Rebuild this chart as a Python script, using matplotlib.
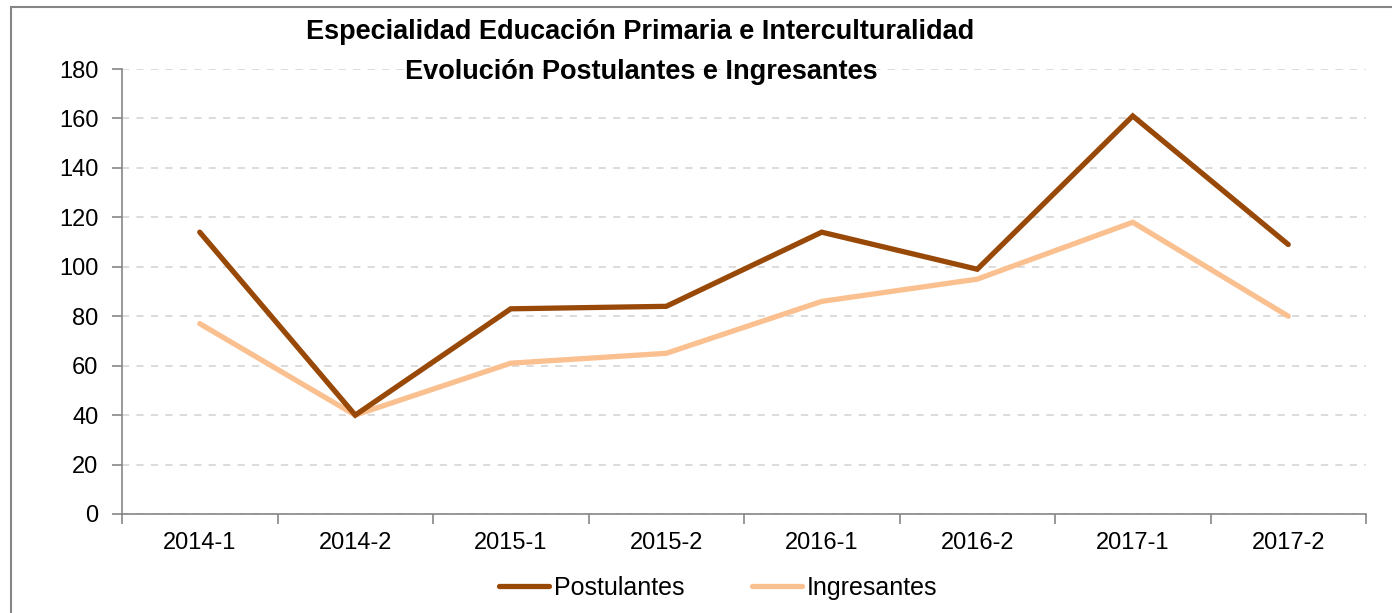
import numpy as np
import matplotlib.pyplot as plt
from matplotlib.patches import Rectangle
from matplotlib.ticker import FixedLocator

# === data ===
periods = ["2014-1", "2014-2", "2015-1", "2015-2", "2016-1", "2016-2", "2017-1", "2017-2"]
postulantes = [114, 40, 83, 84, 114, 99, 161, 109]
ingresantes = [77, 40, 61, 65, 86, 95, 118, 80]

plt.rcParams['font.family'] = ['Liberation Sans', 'DejaVu Sans']

W, H = 1392, 613
fig = plt.figure(figsize=(W / 100, H / 100), dpi=100)
ax = fig.add_axes([122 / W, 1 - 514 / H, (1366 - 122) / W, (514 - 69) / H])

x = np.arange(len(periods))
ax.plot(x, postulantes, color="#984807", lw=3.8, solid_capstyle="round", solid_joinstyle="miter",
        label="Postulantes", zorder=3)
ax.plot(x, ingresantes, color="#FAC090", lw=3.8, solid_capstyle="round", solid_joinstyle="miter",
        label="Ingresantes", zorder=2)

ax.set_xlim(-0.5, len(periods) - 0.5)
ax.set_ylim(0, 180)
ax.set_yticks(np.arange(0, 181, 20))
ax.set_xticks(x)
ax.set_xticklabels(periods)
ax.xaxis.set_minor_locator(FixedLocator(np.arange(-0.5, len(periods), 1)))
ax.tick_params(axis="x", which="major", length=0, pad=13, labelsize=17)
ax.tick_params(axis="x", which="minor", length=7, color="#868686", width=1.2)
ax.tick_params(axis="y", length=7, color="#868686", width=1.2, labelsize=17, pad=10)

ax.grid(axis="y", color="#d9d9d9", ls=(0, (4, 4)), lw=1.3)
ax.set_axisbelow(True)
for s in ["top", "right"]:
    ax.spines[s].set_visible(False)
for s in ["left", "bottom"]:
    ax.spines[s].set_color("#868686")
    ax.spines[s].set_linewidth(1.2)

fig.text(640 / W, 1 - 32 / H, "Especialidad Educación Primaria e Interculturalidad",
         ha="center", va="center", fontsize=19.5, fontweight="bold")
fig.text(641 / W, 1 - 72 / H, "Evolución Postulantes e Ingresantes",
         ha="center", va="center", fontsize=19.5, fontweight="bold")

fig.legend(loc="center", bbox_to_anchor=(718 / W, 1 - 588 / H), ncol=2, frameon=False,
           fontsize=18, handlelength=2.0, handletextpad=0.2, columnspacing=2.7)

# outer chart frame (cropped at right/bottom)
fig.patches.append(Rectangle((11 / W, -0.1), 1.2, 1 - 7 / H + 0.1, transform=fig.transFigure,
                             fill=False, edgecolor="#868686", lw=1.5))

fig.savefig("out.png", dpi=100)
